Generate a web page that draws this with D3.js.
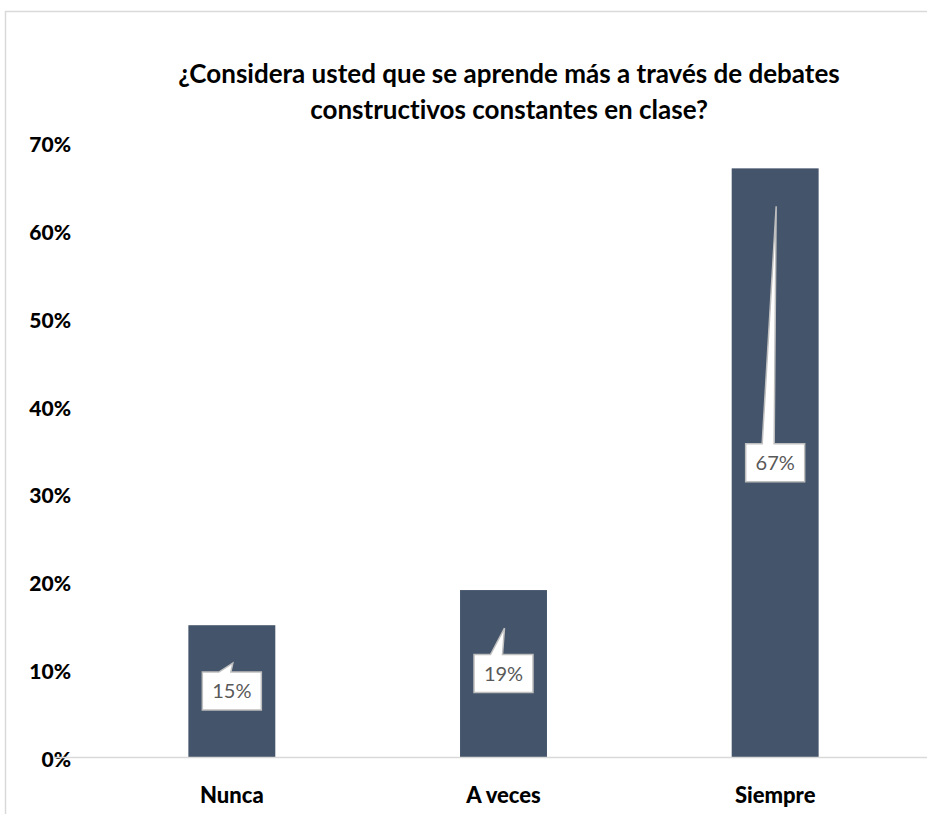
<!DOCTYPE html>
<html><head><meta charset="utf-8">
<script src="https://cdn.jsdelivr.net/npm/d3@7"></script>
<style>body{margin:0;background:#fff}svg{display:block}text{font-variant-ligatures:none}</style>
</head><body>
<script>
const categories = ["Nunca", "A veces", "Siempre"];
const values = [0.15, 0.19, 0.67];
const valueLabels = ["15%", "19%", "67%"];
const tickValues = [0, 0.1, 0.2, 0.3, 0.4, 0.5, 0.6, 0.7];
const titleLines = ["¿Considera usted que se aprende más a través de debates", "constructivos constantes en clase?"];

const W = 927, H = 814;
const svg = d3.select("body").append("svg").attr("width", W).attr("height", H);
// chart border
svg.append("path").attr("d", "M5.5,814 V11.5 H927").attr("fill", "none").attr("stroke", "#d9d9d9").attr("stroke-width", 1.5);

const y = d3.scaleLinear().domain([0, 0.7]).range([757, 142]);
const x = d3.scaleBand().domain(categories).range([96, 911]).paddingInner(0.68).paddingOuter(0.34);

const font = "Lato, Carlito, 'Open Sans', sans-serif";

// title
svg.append("g").selectAll("text").data(titleLines).join("text")
  .attr("x", 509).attr("y", (d, i) => 83 + i * 36)
  .attr("text-anchor", "middle").attr("font-family", font).attr("font-weight", "bold")
  .attr("font-size", 26).attr("fill", "#000").text(d => d);

// y axis labels
const yAxis = d3.axisLeft(y).tickValues(tickValues).tickFormat(d3.format(".0%")).tickSize(0).tickPadding(0);
const ga = svg.append("g").attr("transform", "translate(71,0)").call(yAxis);
ga.select(".domain").remove();
ga.selectAll("text").attr("font-family", font).attr("font-weight", "900").attr("font-size", 21).attr("fill", "#000").attr("dy", "0.45em");

// bars
svg.append("g").selectAll("rect").data(values).join("rect")
  .attr("x", (d, i) => x(categories[i])).attr("width", x.bandwidth())
  .attr("y", d => y(d)).attr("height", d => y(0) - y(d)).attr("fill", "#44546a");

// baseline
svg.append("line").attr("x1", 54).attr("x2", 927).attr("y1", y(0) + 0.5).attr("y2", y(0) + 0.5).attr("stroke", "#d9d9d9").attr("stroke-width", 1.5);

// x axis labels
const xAxis = d3.axisBottom(x).tickSize(0).tickPadding(0);
const gx = svg.append("g").attr("transform", "translate(0,795)").call(xAxis);
gx.select(".domain").remove();
gx.selectAll("text").attr("font-family", font).attr("font-weight", "900").attr("font-size", 22).attr("fill", "#000").attr("dy", "0.35em");

// callout labels
const bw = 59, bh = 38;
const cg = svg.append("g");
values.forEach((v, i) => {
  const cx = x(categories[i]) + x.bandwidth() / 2;
  const cy = y(v / 2);
  const tipX = cx + 1, tipY = y(v) + 38;
  const l = cx - bw / 2, r = cx + bw / 2, t = cy - bh / 2, b = cy + bh / 2;
  const p = `M${l},${t} H${cx - 13} L${tipX},${tipY} L${cx - 1},${t} H${r} V${b} H${l} Z`;
  cg.append("path").attr("d", p).attr("fill", "#fff").attr("stroke", "#bfbfbf").attr("stroke-width", 1.5).attr("stroke-linejoin", "miter");
  cg.append("text").attr("x", cx).attr("y", cy).attr("dy", "0.36em").attr("text-anchor", "middle")
    .attr("font-family", font).attr("font-size", 20).attr("fill", "#595959").text(valueLabels[i]);
});
</script>
</body></html>
